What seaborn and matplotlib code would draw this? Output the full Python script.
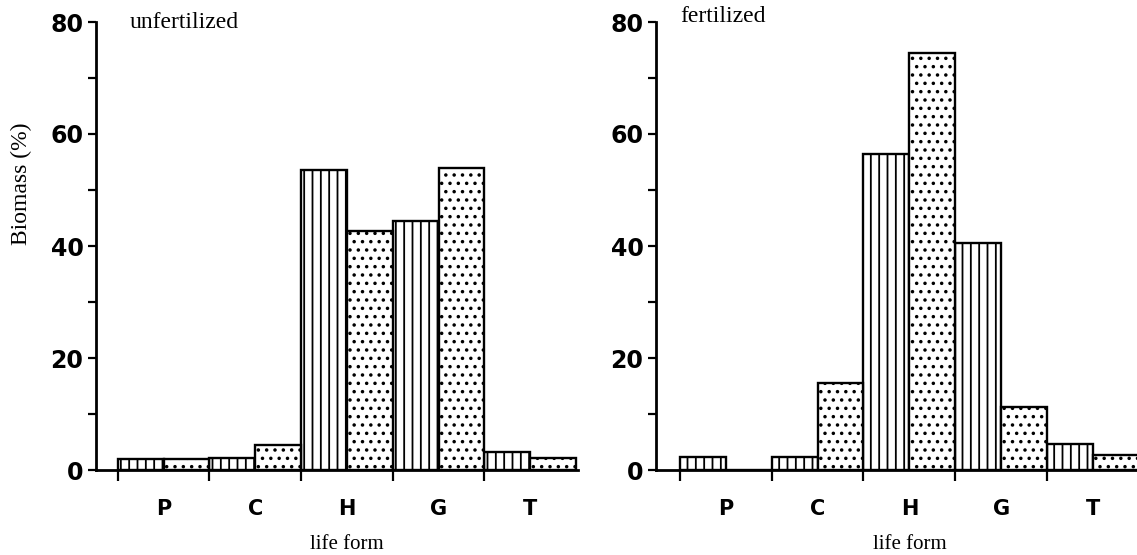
import numpy as np
import pandas as pd
import matplotlib.pyplot as plt
import seaborn as sns

# life-form classes and biomass share (%)
forms = ['P', 'C', 'H', 'G', 'T']
unfert_striped = [2.0, 2.1, 53.6, 44.5, 3.3]
unfert_dotted = [2.0, 4.4, 42.6, 54.0, 2.2]
fert_striped = [2.3, 2.3, 56.5, 40.5, 4.6]
fert_dotted = [0.0, 15.5, 74.5, 11.3, 2.7]
yticks = [0, 20, 40, 60, 80]

sns.set_style('white')
plt.rcParams.update({
    'hatch.linewidth': 1.3,
    'font.family': ['DejaVu Sans'],
    'text.color': 'black',
    'axes.labelcolor': 'black',
    'xtick.color': 'black',
    'ytick.color': 'black',
})
serif = 'Liberation Serif'


def make_df(striped, dotted):
    return pd.DataFrame({
        'form': forms * 2,
        'biomass': striped + dotted,
        'kind': ['striped'] * len(forms) + ['dotted'] * len(forms),
    })


fig = plt.figure(figsize=(11.37, 5.55), dpi=100)
ax1 = fig.add_axes([96 / 1137, 1 - 470 / 555, 482 / 1137, 448 / 555])
ax2 = fig.add_axes([656 / 1137, 1 - 470 / 555, 481 / 1137, 448 / 555])

panels = [
    (ax1, unfert_striped, unfert_dotted, 'unfertilized', 80, 0.07, (-0.737, 4.52)),
    (ax2, fert_striped, fert_dotted, 'fertilized', 81, 0.05, (-0.76, 4.48)),
]

for ax, striped, dotted, title, ty, tx, xlim in panels:
    sns.barplot(data=make_df(striped, dotted), x='form', y='biomass', hue='kind',
                hue_order=['striped', 'dotted'], palette=['white', 'white'],
                saturation=1, width=1, edgecolor='black', linewidth=1.7,
                errorbar=None, legend=False, ax=ax)
    for bar in ax.containers[0]:
        bar.set_hatch('||')
    for bar in ax.containers[1]:
        bar.set_hatch('..')

    ax.set_xlim(*xlim)
    ax.set_ylim(0, 80)
    sns.despine(ax=ax)
    for side in ['left', 'bottom']:
        ax.spines[side].set_linewidth(2)
        ax.spines[side].set_color('black')

    ax.set_yticks(yticks)
    ax.set_yticks([10, 30, 50, 70], minor=True)
    ax.set_yticklabels([str(v) for v in yticks], fontsize=17, fontweight='bold')
    ax.tick_params(axis='y', which='both', direction='out', length=6, width=1.6,
                   color='black', labelcolor='black', pad=3, left=True)

    ax.set_xticks(range(len(forms)))
    ax.set_xticklabels(forms, fontsize=15, fontweight='bold')
    ax.set_xticks([-0.5, 0.5, 1.5, 2.5, 3.5], minor=True)
    ax.tick_params(axis='x', which='major', length=0, pad=21, labelcolor='black')
    ax.tick_params(axis='x', which='minor', direction='out', length=8, width=1.6,
                   color='black', bottom=True)

    ax.set_xlabel('life form', fontsize=15, family=serif)
    ax.xaxis.set_label_coords(2, -0.167, transform=ax.get_xaxis_transform())
    ax.xaxis.label.set_va('center')
    ax.set_ylabel('')

    ax.text(tx, ty, title, transform=ax.get_yaxis_transform(),
            fontsize=17, family=serif, va='center', ha='left')

ax1.set_ylabel('Biomass (%)', fontsize=17, family=serif)
ax1.yaxis.set_label_coords(-0.154, 0.64)
ax1.yaxis.label.set_va('center')

fig.savefig('out.png', dpi=100)
